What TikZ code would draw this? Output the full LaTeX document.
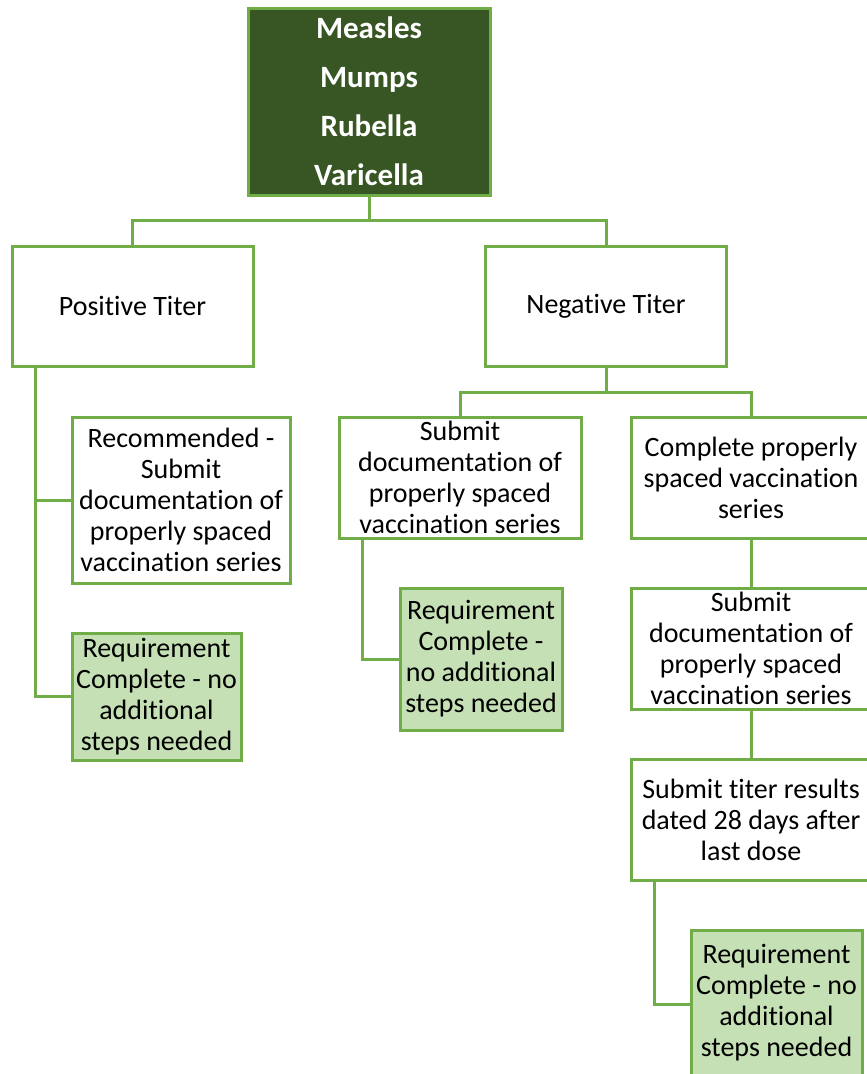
\documentclass[tikz,border=0pt]{standalone}
\usepackage{fontspec}
\setmainfont[RawFeature={-liga}]{Carlito}
\definecolor{dkgreen}{HTML}{375623}
\definecolor{edgegreen}{HTML}{70AD47}
\definecolor{ltgreen}{HTML}{C5E0B4}
\tikzset{
  box/.style={draw=edgegreen, line width=3pt, fill=white, align=center, inner sep=0pt,
    font=\fontsize{28}{31}\selectfont, text=black},
  donebox/.style={box, fill=ltgreen},
  topbox/.style={box, fill=dkgreen, text=white, font=\fontsize{31}{49}\selectfont\bfseries},
  link/.style={draw=edgegreen, line width=3pt}
}
\begin{document}
\begin{tikzpicture}[x=1pt,y=-1pt]
\useasboundingbox (0,0) rectangle (867,1074);
\clip (0,0) rectangle (867,1074);
\fill[white] (0,0) rectangle (867,1074);

\node[topbox, minimum width=242pt, minimum height=187pt] (top) at (369,101.5) {Measles\\Mumps\\Rubella\\Varicella};
\node[box, minimum width=241pt, minimum height=120pt] (pos) at (132.5,306) {Positive Titer};
\node[box, minimum width=241pt, minimum height=120pt] (neg) at (606,306) {Negative Titer};
\node[box, minimum width=218pt, minimum height=166pt] (rec) at (181,500) {Recommended -\\Submit\\documentation of\\properly spaced\\vaccination series};
\node[donebox, minimum width=169pt, minimum height=127pt] (rc1) at (156.5,696.5) {Requirement\\Complete - no\\additional\\steps needed};
\node[box, minimum width=242pt, minimum height=121pt] (sub1) at (460,477.5) {Submit\\documentation of\\properly spaced\\vaccination series};
\node[box, minimum width=240pt, minimum height=121pt] (comp) at (751,477.5) {Complete properly\\spaced vaccination\\series};
\node[donebox, minimum width=162pt, minimum height=142pt] (rc2) at (481,659) {Requirement\\Complete -\\no additional\\steps needed};
\node[box, minimum width=240pt, minimum height=121pt] (sub2) at (751,648.5) {Submit\\documentation of\\properly spaced\\vaccination series};
\node[box, minimum width=240pt, minimum height=121pt] (titer) at (751,819.5) {Submit titer results\\dated 28 days after\\last dose};
\node[donebox, minimum width=171pt, minimum height=146pt] (rc3) at (776.5,1003) {Requirement\\Complete - no\\additional\\steps needed};

\coordinate (j1) at (369,220);
\coordinate (j2) at (606,392);
\draw[link] (top.south) -- (j1) -| (pos.north);
\draw[link] (j1) -| (neg.north);
\draw[link] (neg.south) -- (j2) -| (sub1.north);
\draw[link] (j2) -| (comp.north);
\draw[link] ([xshift=25pt]pos.south west) |- (rec.west);
\draw[link] ([xshift=25pt]pos.south west) |- (rc1.west);
\draw[link] ([xshift=25pt]sub1.south west) |- (rc2.west);
\draw[link] (comp.south) -- (sub2.north);
\draw[link] (sub2.south) -- (titer.north);
\draw[link] ([xshift=25pt]titer.south west) |- ([yshift=-1pt]rc3.west);
\end{tikzpicture}
\end{document}
